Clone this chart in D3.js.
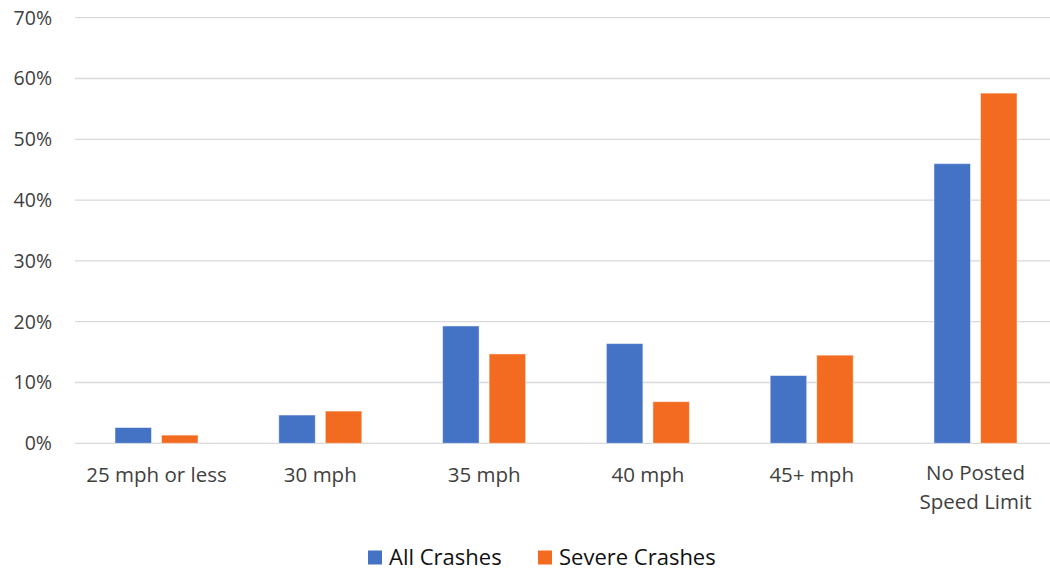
<!DOCTYPE html>
<html><head><meta charset="utf-8">
<script src="https://cdn.jsdelivr.net/npm/d3@7"></script>
<style>
body{margin:0;background:#fff;}
text{font-family:"Open Sans",sans-serif;}
</style></head>
<body>
<svg id="chart" width="1050" height="571"></svg>
<script>
const categories = ["25 mph or less","30 mph","35 mph","40 mph","45+ mph","No Posted\nSpeed Limit"];
const seriesNames = ["All Crashes","Severe Crashes"];
const allCrashes = [2.6, 4.65, 19.3, 16.4, 11.15, 46.0];
const severeCrashes = [1.35, 5.3, 14.7, 6.85, 14.5, 57.6];
const yTicks = [0,10,20,30,40,50,60,70];
const colors = ["#4472C4","#F26B21"];

const svg = d3.select("#chart");
const plotLeft = 74.6, plotRight = 1057.4, gridRight = 1050, plotTop = 17.7, plotBottom = 443.3;

const x = d3.scaleBand().domain(categories).range([plotLeft, plotRight]).paddingInner(0.493).paddingOuter(0.2465);
const xs = d3.scaleBand().domain(seriesNames).range([0, x.bandwidth()]).paddingInner(0.215);
const y = d3.scaleLinear().domain([0,70]).range([plotBottom, plotTop]);

// gridlines
svg.append("g").selectAll("line").data(yTicks).join("line")
  .attr("x1", 75).attr("x2", gridRight)
  .attr("y1", d=>y(d)).attr("y2", d=>y(d))
  .attr("stroke", "#d9d9d9").attr("stroke-width", 1.3);

// y tick labels
svg.append("g").selectAll("text").data(yTicks).join("text")
  .attr("x", 52).attr("y", d=>y(d)).attr("dy","0.35em")
  .attr("text-anchor","end").attr("font-size", 19.5).attr("fill","#404040")
  .text(d=>d+"%");

const data = categories.map((c,i)=>({cat:c, vals:[allCrashes[i], severeCrashes[i]]}));
const g = svg.append("g").selectAll("g").data(data).join("g")
  .attr("transform", d=>`translate(${x(d.cat)},0)`);
g.selectAll("rect").data(d=>d.vals.map((v,j)=>({s:seriesNames[j], v, j}))).join("rect")
  .attr("x", d=>xs(d.s)).attr("width", xs.bandwidth())
  .attr("y", d=>y(d.v)).attr("height", d=>y(0)-y(d.v))
  .attr("fill", d=>colors[d.j]).attr("stroke","#ffffff").attr("stroke-opacity",0.5).attr("stroke-width",1);

// x labels
const xl = svg.append("g").selectAll("text").data(categories).join("text")
  .attr("text-anchor","middle").attr("font-size", 20.5).attr("fill","#404040");
xl.each(function(d){
  const lines = d.split("\n");
  const t = d3.select(this);
  lines.forEach((ln,k)=>{
    t.append("tspan").attr("x", x(d)+x.bandwidth()/2).attr("y", 475 + k*29 - (lines.length>1?2:0)).attr("dy","0.35em").text(ln);
  });
});

// legend
const legendItems = [{name:seriesNames[0], c:colors[0], x:368},{name:seriesNames[1], c:colors[1], x:538}];
const lg = svg.append("g").selectAll("g").data(legendItems).join("g")
  .attr("transform", d=>`translate(${d.x},550.5)`);
lg.append("rect").attr("width",14).attr("height",14).attr("fill",d=>d.c);
lg.append("text").attr("x",21).attr("y",7).attr("dy","0.33em")
  .attr("font-size",22).attr("fill","#111").text(d=>d.name);
</script>
</body></html>
